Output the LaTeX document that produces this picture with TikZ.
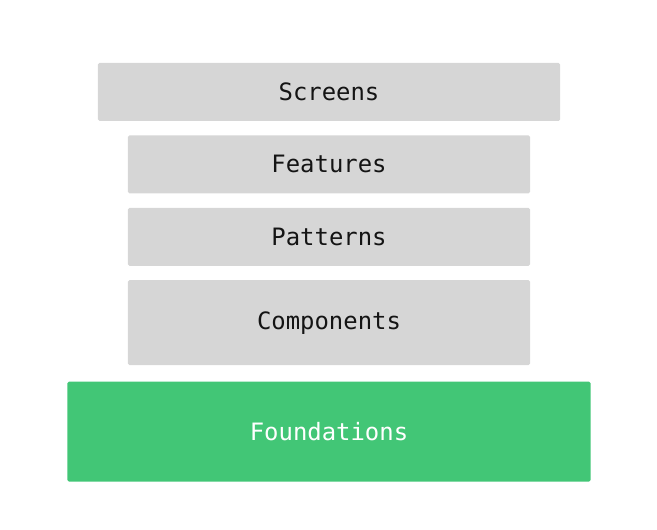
\documentclass[tikz,border=0pt]{standalone}
\usepackage{fontspec}
\setmonofont{DejaVu Sans Mono}
\usepackage{tikz}
\usetikzlibrary{positioning}
\definecolor{layergray}{HTML}{D6D6D6}
\definecolor{basegreen}{HTML}{42C676}
\tikzset{%
  layer/.style = {rectangle,fill=layergray,text=black!92,rounded corners=1.5bp,
        inner sep=0pt,minimum width=402bp,minimum height=58bp,
        font=\fontsize{24}{27}\selectfont\ttfamily},
  base/.style = {layer,fill=basegreen,text=white,minimum width=523bp,
        minimum height=100bp}
}
\begin{document}
\begin{tikzpicture}[x=1bp,y=-1bp,node distance=14bp]
                \useasboundingbox (0,0) rectangle (657,530);
                \node[layer, minimum width=462bp] (screens) at (329,92) {Screens};
                \node[layer] (features) [below=of screens] {Features};
                \node[layer] (patterns) [below=of features] {Patterns};
                \node[layer, minimum height=85bp] (components) [below=of patterns] {Components};
                \node[base] (foundations) [below=16bp of components] {Foundations};
            \end{tikzpicture}
\end{document}
